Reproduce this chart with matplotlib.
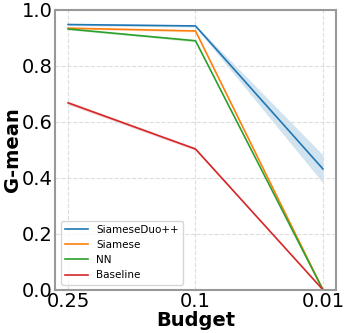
import numpy as np
import matplotlib.pyplot as plt

budgets = ["0.25", "0.1", "0.01"]
duo = [0.948, 0.943, 0.432]
duo_std = [0.004, 0.004, 0.05]
siamese = [0.935, 0.925, 0.0]
siamese_std = [0.003, 0.004, 0.0]
nn = [0.932, 0.890, 0.0]
nn_std = [0.003, 0.004, 0.0]
baseline = [0.668, 0.503, 0.0]
baseline_std = [0.006, 0.005, 0.0]

series = [
    ("SiameseDuo++", duo, duo_std, "#1f77b4"),
    ("Siamese", siamese, siamese_std, "#ff7f0e"),
    ("NN", nn, nn_std, "#2ca02c"),
    ("Baseline", baseline, baseline_std, "#d62728"),
]

fig, ax = plt.subplots(figsize=(3.46, 3.33), dpi=100)
x = np.arange(len(budgets))
for name, vals, std, color in series:
    vals = np.asarray(vals)
    std = np.asarray(std)
    ax.plot(x, vals, color=color, linewidth=1.2, label=name)
    ax.fill_between(x, vals - std, vals + std, color=color, alpha=0.2, linewidth=0)

ax.set_xticks(x)
ax.set_xticklabels(budgets)
ax.set_xlim(-0.1, 2.1)
ax.set_ylim(0, 1.0)
ax.set_yticks([0, 0.2, 0.4, 0.6, 0.8, 1.0])
ax.tick_params(labelsize=14, length=0, pad=2)
ax.grid(True, linestyle="--", color="#dddddd", linewidth=0.8)
for s in ax.spines.values():
    s.set_color("#999999")
    s.set_linewidth(1.5)
ax.set_xlabel("Budget", fontsize=14, fontweight="bold", labelpad=0)
ax.set_ylabel("G-mean", fontsize=14, fontweight="bold", labelpad=0)
ax.legend(loc="lower left", fontsize=7.5, handlelength=2.2, borderaxespad=0.5)
fig.subplots_adjust(left=0.16, right=0.97, top=0.97, bottom=0.13)
fig.savefig("out.png", dpi=100)
